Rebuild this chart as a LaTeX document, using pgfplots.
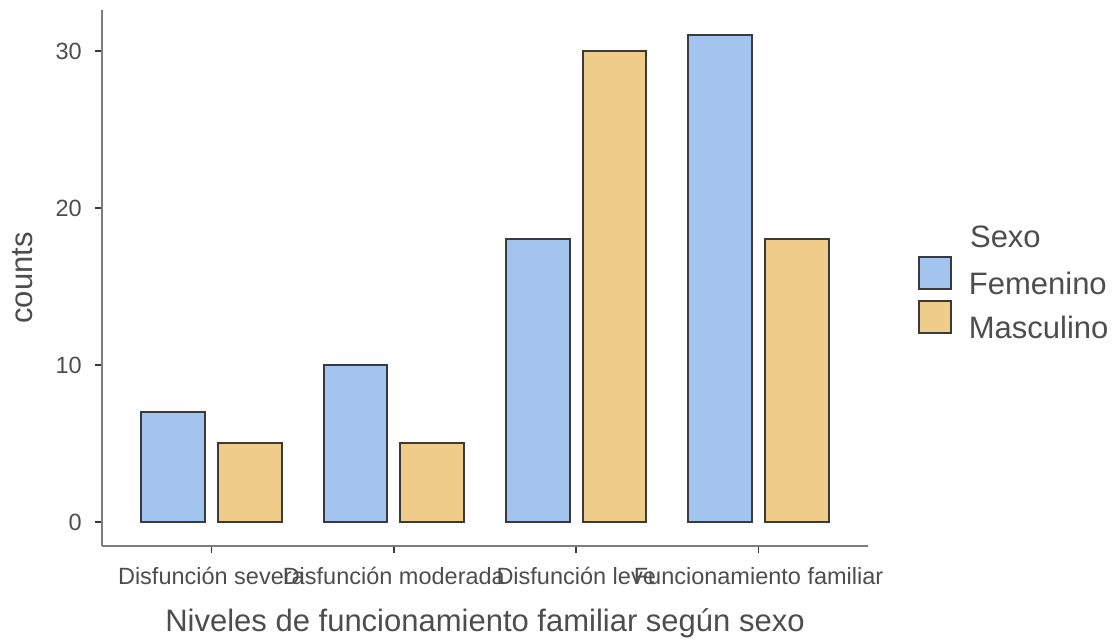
\documentclass[border=0pt]{standalone}
\usepackage{fontspec}
\setmainfont{Liberation Sans}
\usepackage{pgfplots}
\pgfplotsset{compat=1.18}
\definecolor{femblue}{RGB}{164,196,240}
\definecolor{mascu}{RGB}{239,204,138}
\definecolor{outl}{RGB}{58,58,58}
\definecolor{axgray}{RGB}{125,125,125}
\definecolor{txtgray}{RGB}{77,77,77}
\newcommand\tickfont{\fontsize{23.5pt}{28pt}\selectfont}
\newcommand\bigfont{\fontsize{31pt}{36pt}\selectfont}
\pgfplotsset{
  sqlegend/.style={legend image code/.code={\draw[##1,line width=1.9pt] (0pt,-5pt) rectangle (32pt,27pt);}}
}
\begin{document}
\begin{tikzpicture}
\path[use as bounding box] (-102pt,-98pt) rectangle (1015pt,546pt);
\begin{axis}[
  at={(0pt,0pt)}, anchor=south west,
  scale only axis, width=766pt, height=536pt,
  xmin=0.4, xmax=4.6, ymin=-1.53, ymax=32.6,
  axis x line*=bottom, axis y line*=left,
  axis line style={draw=axgray, line width=1.8pt, -},
  xtick={1,2,3,4},
  xticklabels={Disfunción severa, Disfunción moderada, Disfunción leve, Funcionamiento familiar},
  ytick={0,10,20,30},
  tick style={draw=outl, line width=1.6pt},
  tick align=outside, major tick length=7pt,
  /pgf/number format/assume math mode=true,
  ticklabel style={font=\tickfont, text=txtgray},
  xticklabel style={inner sep=0pt, text height=17pt, text depth=6pt, yshift=-14pt},
  yticklabel style={inner sep=0pt, anchor=east, text height=17pt, text depth=0pt, xshift=-13pt},
  xlabel={Niveles de funcionamiento familiar según sexo},
  ylabel={counts},
  xlabel style={font=\bigfont, text=txtgray, at={(axis description cs:0.5,-0.1604)}, anchor=base},
  ylabel style={font=\bigfont, text=txtgray, at={(axis description cs:-0.0901,0.5)}, anchor=base, rotate=0},
  clip=false,
  legend style={at={(axis description cs:1.065,0.459)}, anchor=west, draw=none, fill=none,
    inner sep=0pt, row sep=0pt, font=\bigfont, text=txtgray,
    nodes={inner sep=0pt, text height=27pt, text depth=5pt},
    /tikz/column sep=17pt},
  legend cell align=left,
]
\addplot[ybar, bar width=0.35, bar shift=-0.21, fill=femblue, draw=outl, line width=1.9pt, sqlegend]
  coordinates {(1,7) (2,10) (3,18) (4,31)};
\addlegendentry{Femenino}
\addplot[ybar, bar width=0.35, bar shift=0.21, fill=mascu, draw=outl, line width=1.9pt, sqlegend]
  coordinates {(1,5) (2,5) (3,30) (4,18)};
\addlegendentry{Masculino}
\node[anchor=base west, font=\bigfont, text=txtgray, inner sep=0pt] at (axis description cs:1.133,0.556) {Sexo};
\end{axis}
\end{tikzpicture}
\end{document}
